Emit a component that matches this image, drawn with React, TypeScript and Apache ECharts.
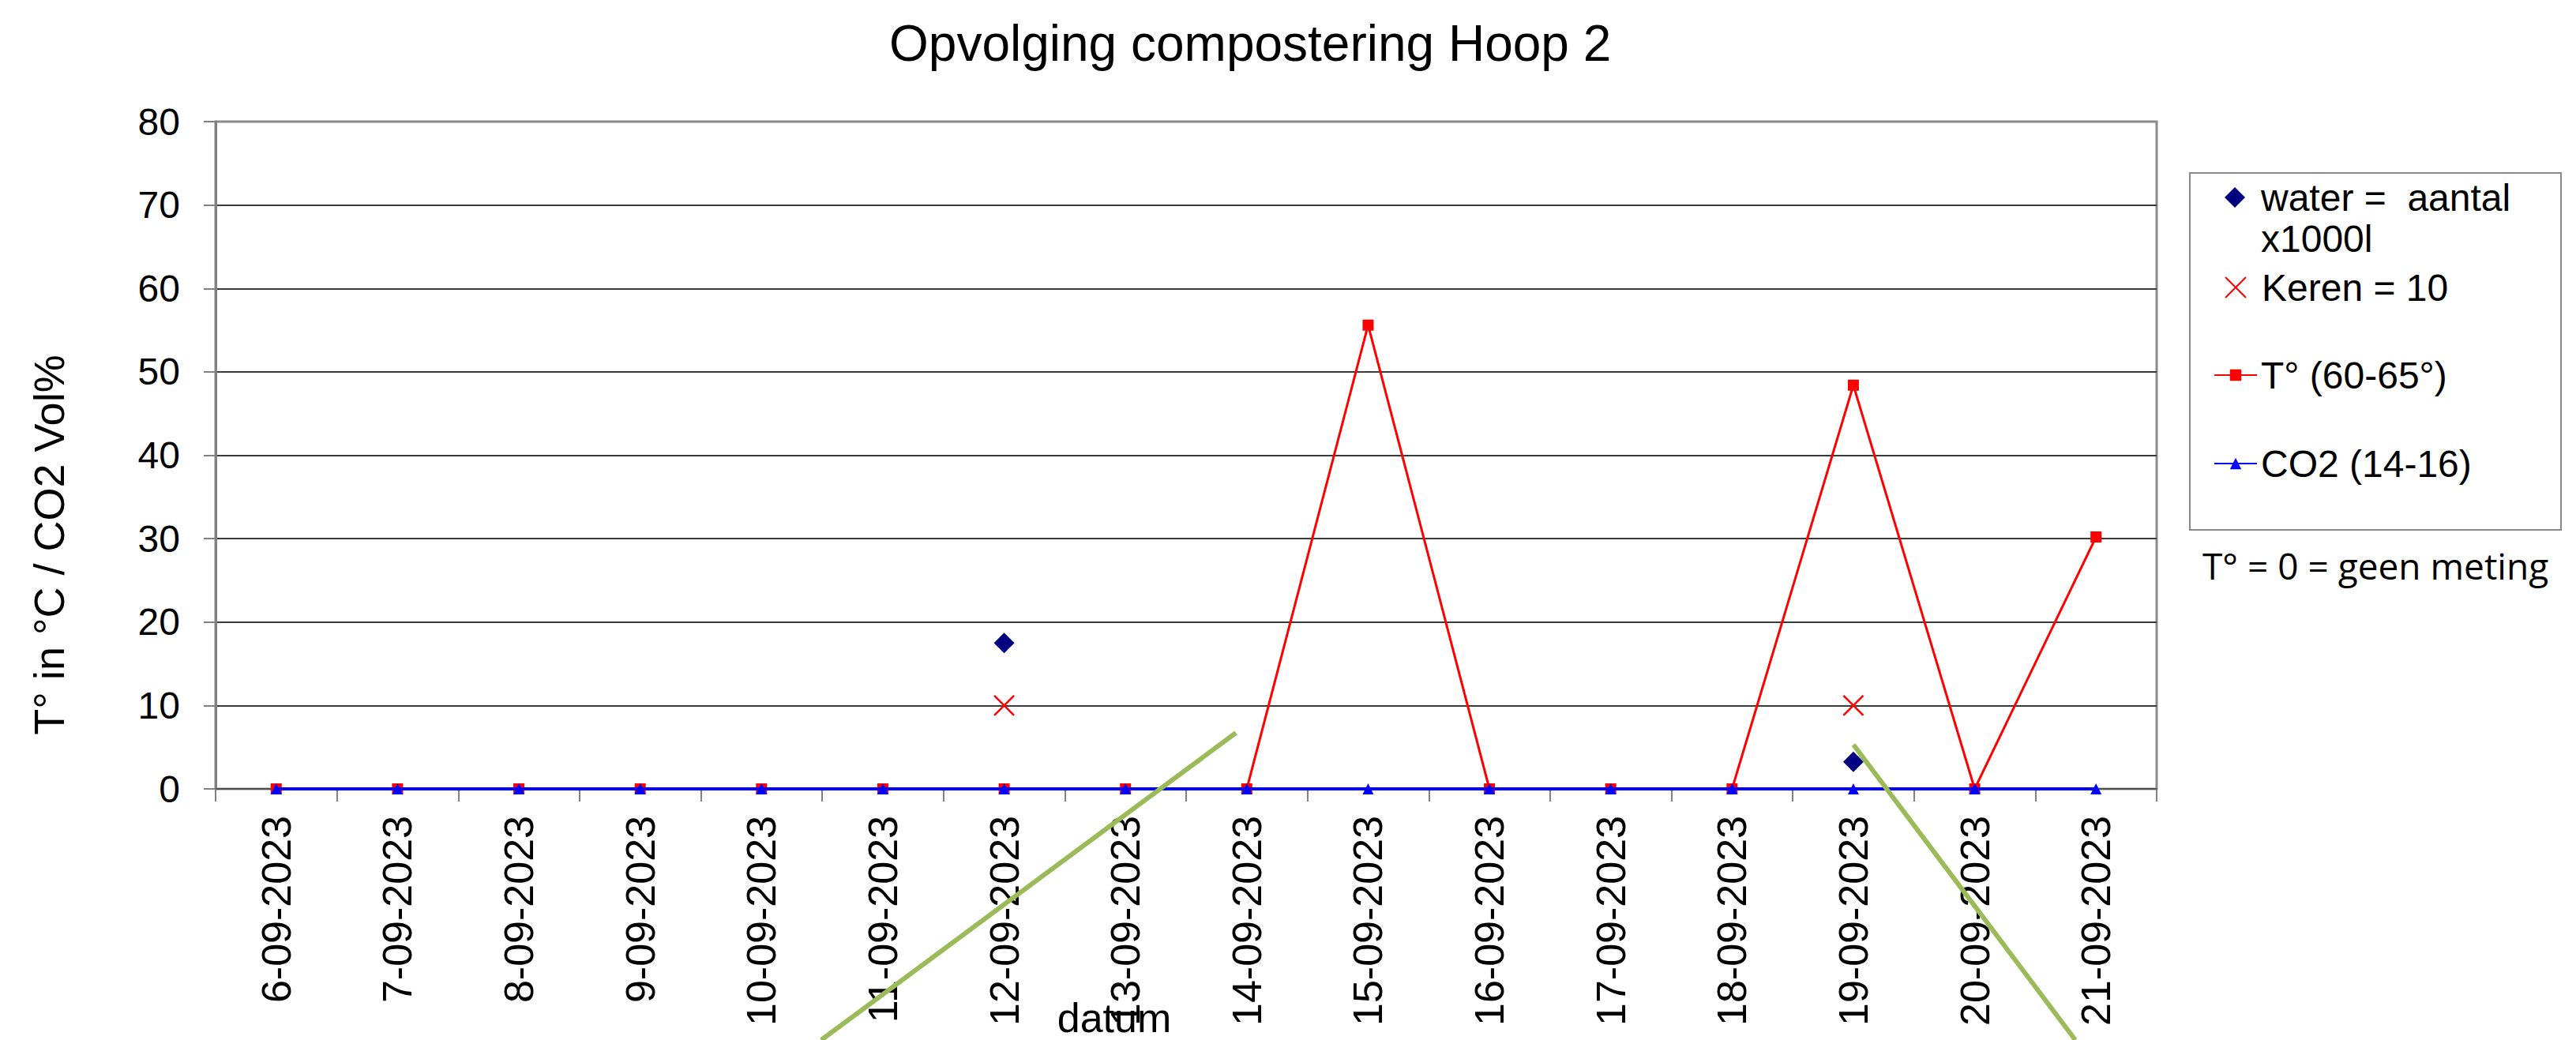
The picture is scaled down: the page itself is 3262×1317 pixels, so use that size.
import React, { useEffect, useRef } from 'react';
import * as echarts from 'echarts';

const categories = [
  '6-09-2023', '7-09-2023', '8-09-2023', '9-09-2023', '10-09-2023', '11-09-2023',
  '12-09-2023', '13-09-2023', '14-09-2023', '15-09-2023', '16-09-2023', '17-09-2023',
  '18-09-2023', '19-09-2023', '20-09-2023', '21-09-2023',
];
const tempValues = [0, 0, 0, 0, 0, 0, 0, 0, 0, 55.6, 0, 0, 0, 48.4, 0, 30.2];
const co2Values = [0, 0, 0, 0, 0, 0, 0, 0, 0, 0, 0, 0, 0, 0, 0, 0];
const waterValues = [null, null, null, null, null, null, 17.5, null, null, null, null, null, null, 3.25, null, null];
const kerenValues = [null, null, null, null, null, null, 10, null, null, null, null, null, null, 10, null, null];

const seriesNames = ['water =  aantal', 'Keren = 10', 'T° (60-65°)', 'CO2 (14-16)'];
const yMin = 0;
const yMax = 80;
const yInterval = 10;

const titleText = 'Opvolging compostering Hoop 2';
const yAxisName = 'T° in °C / CO2 Vol%';
const xAxisName = 'datum';
const noteText = 'T° = 0 = geen meting';
const waterSecondLine = 'x1000l';

const FONT = '"Liberation Sans", Arial, sans-serif';

export default function App() {
  const ref = useRef<HTMLDivElement>(null);
  useEffect(() => {
    const chart = echarts.init(ref.current as HTMLDivElement, null, { renderer: 'svg' });
    const legendText = { fontSize: 48, lineHeight: 56, fontFamily: FONT, color: '#000' };
    const legendBase = { orient: 'vertical', padding: 0, selectedMode: false, itemGap: 0 };
    chart.setOption({
      animation: false,
      backgroundColor: '#ffffff',
      title: {
        text: titleText,
        left: 1126,
        top: 23,
        padding: 0,
        textStyle: { fontSize: 64, lineHeight: 64, fontWeight: 'normal', fontFamily: FONT, color: '#000' },
      },
      grid: { left: 273, right: 531, top: 154, bottom: 318, show: true, borderColor: '#8a8a8a', borderWidth: 3, backgroundColor: 'transparent' },
      legend: [
        { ...legendBase, data: [seriesNames[0]], left: 2817, top: 222, itemWidth: 26, itemHeight: 26, textStyle: { ...legendText, padding: [0, 0, 0, 15] } },
        { ...legendBase, data: [seriesNames[1]], left: 2817, top: 336, itemWidth: 26, itemHeight: 26, textStyle: { ...legendText, padding: [0, 0, 0, 15] } },
        { ...legendBase, data: [seriesNames[2]], left: 2803, top: 447, itemWidth: 54, itemHeight: 18, textStyle: { ...legendText } },
        { ...legendBase, data: [seriesNames[3]], left: 2803, top: 559, itemWidth: 54, itemHeight: 18, textStyle: { ...legendText } },
      ],
      xAxis: {
        type: 'category',
        data: categories,
        boundaryGap: true,
        axisLine: { show: true, lineStyle: { color: '#505050', width: 2 } },
        axisTick: { show: true, inside: false, length: 16, alignWithLabel: false, lineStyle: { color: '#808080', width: 2 } },
        axisLabel: { interval: 0, rotate: 90, margin: 34, fontSize: 52, fontFamily: FONT, color: '#000' },
        splitLine: { show: false },
      },
      yAxis: {
        type: 'value',
        min: yMin,
        max: yMax,
        interval: yInterval,
        axisLine: { show: true, lineStyle: { color: '#808080', width: 3 } },
        axisTick: { show: true, inside: false, length: 15, lineStyle: { color: '#808080', width: 2 } },
        axisLabel: { margin: 45, fontSize: 48, fontFamily: FONT, color: '#000' },
        splitLine: {
          show: true,
          lineStyle: {
            color: ['#3a3a3a', '#3a3a3a', '#3a3a3a', '#3a3a3a', '#3a3a3a', '#3a3a3a', '#3a3a3a', '#3a3a3a', '#8a8a8a'],
            width: 2,
          },
        },
      },
      series: [
        {
          name: seriesNames[2],
          type: 'line',
          data: tempValues,
          symbol: 'rect',
          symbolSize: 14,
          showAllSymbol: true,
          lineStyle: { color: '#FF0000', width: 3 },
          itemStyle: { color: '#FF0000', opacity: 1 },
          z: 2,
        },
        {
          name: seriesNames[3],
          type: 'line',
          data: co2Values,
          symbol: 'triangle',
          symbolSize: 14,
          showAllSymbol: true,
          lineStyle: { color: '#0000FF', width: 4 },
          itemStyle: { color: '#0000FF', opacity: 1 },
          z: 3,
        },
        {
          name: seriesNames[0],
          type: 'scatter',
          data: waterValues,
          symbol: 'diamond',
          symbolSize: 26,
          itemStyle: { color: '#000080', opacity: 1 },
          z: 4,
        },
        {
          name: seriesNames[1],
          type: 'scatter',
          data: kerenValues,
          symbol: 'path://M0,0L10,10M10,0L0,10',
          symbolSize: 25,
          itemStyle: { color: 'rgba(0,0,0,0)', borderColor: '#FF0000', borderWidth: 2.5, opacity: 1 },
          z: 4,
        },
      ],
      graphic: [
        {
          type: 'rect',
          shape: { x: 2773, y: 219, width: 470, height: 452 },
          style: { fill: 'none', stroke: '#8a8a8a', lineWidth: 2 },
          silent: true,
        },
        {
          type: 'text',
          x: 2863,
          y: 302,
          style: { text: waterSecondLine, fontSize: 48, fontFamily: FONT, fill: '#000', textAlign: 'left', textVerticalAlign: 'middle', align: 'left', verticalAlign: 'middle' },
        },
        {
          type: 'text',
          x: 2789,
          y: 716,
          style: { text: noteText, fontSize: 46, fontFamily: '"Open Sans", sans-serif', fill: '#000', textAlign: 'left', textVerticalAlign: 'middle', align: 'left', verticalAlign: 'middle' },
        },
        {
          type: 'text',
          x: 62,
          y: 690,
          rotation: Math.PI / 2,
          style: { text: yAxisName, fontSize: 54, fontFamily: FONT, fill: '#000', textAlign: 'center', textVerticalAlign: 'middle', align: 'center', verticalAlign: 'middle' },
        },
        {
          type: 'text',
          x: 1411,
          y: 1289,
          style: { text: xAxisName, fontSize: 52, fontFamily: FONT, fill: '#000', textAlign: 'center', textVerticalAlign: 'middle', align: 'center', verticalAlign: 'middle' },
          z: 10,
        },
        {
          type: 'line',
          shape: { x1: 1040, y1: 1317, x2: 1565, y2: 928 },
          style: { stroke: '#9BBB59', lineWidth: 6 },
          z: 100,
        },
        {
          type: 'line',
          shape: { x1: 2347, y1: 943, x2: 2628, y2: 1317 },
          style: { stroke: '#9BBB59', lineWidth: 6 },
          z: 100,
        },
      ],
    });
    return () => chart.dispose();
  }, []);
  return (
    <div
      ref={ref}
      style={{ position: 'fixed', left: 0, top: 0, width: 3262, height: 1317, background: '#fff' }}
    />
  );
}
